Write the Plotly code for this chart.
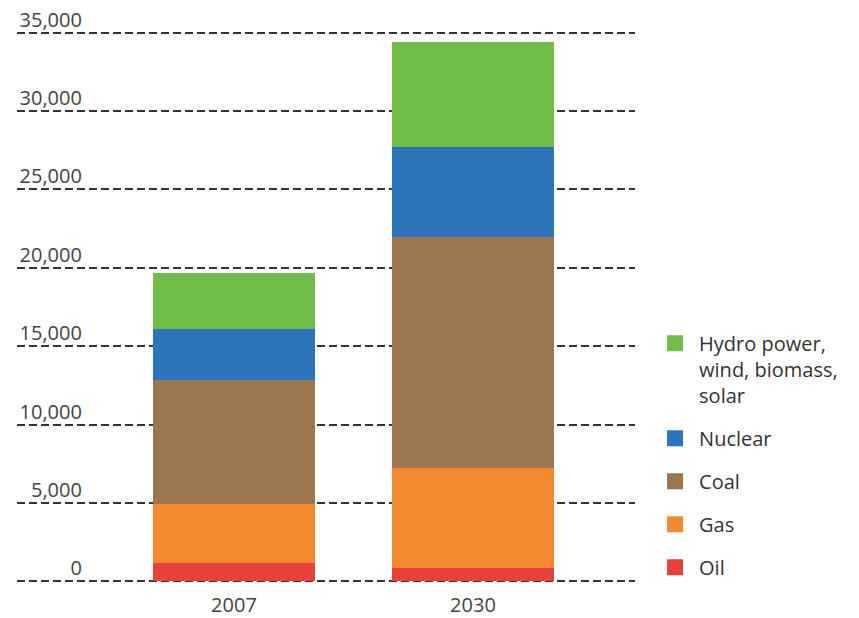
import plotly.graph_objects as go

years = ["2007", "2030"]
series_names = ["Oil", "Gas", "Coal", "Nuclear", "Hydro power,<br>wind, biomass,<br>solar"]
oil = [1170, 850]
gas = [3780, 6410]
coal = [7900, 14710]
nuclear = [3230, 5740]
renewables = [3600, 6690]
series_values = [oil, gas, coal, nuclear, renewables]
colors = ["#E6413B", "#F48A2F", "#9C7650", "#2C75BA", "#72BD4A"]
tick_vals = [0, 5000, 10000, 15000, 20000, 25000, 30000, 35000]
tick_text = ["0", "5,000", "10,000", "15,000", "20,000", "25,000", "30,000", "35,000"]

fig = go.Figure()
for name, vals, col in zip(series_names, series_values, colors):
    fig.add_trace(go.Bar(x=years, y=vals, name=name, marker=dict(color=col, line=dict(width=0)),
                         width=0.68, showlegend=False, legendgroup=name))
# legend proxies (top to bottom)
for name, col in reversed(list(zip(series_names, colors))):
    fig.add_trace(go.Scatter(x=[None], y=[None], mode="markers", name=name, legendgroup=name,
                             marker=dict(symbol="square", size=22, color=col)))

fig.update_layout(
    barmode="stack",
    width=859, height=618,
    margin=dict(l=17, r=224, t=28, b=32),
    plot_bgcolor="white", paper_bgcolor="white",
    font=dict(family="Open Sans", color="#444444", size=18),
    showlegend=True,
    legend=dict(x=1.026, y=0.47, xanchor="left", yanchor="top", traceorder="grouped",
                font=dict(size=20, color="#333333"), tracegroupgap=14, itemwidth=38,
                valign="top", bgcolor="rgba(0,0,0,0)"),
    xaxis=dict(range=[-0.908, 1.678], showgrid=False, showline=False, zeroline=False,
               ticks="", automargin=False, tickfont=dict(size=20, color="#444444"),
               ticklabelstandoff=5),
    yaxis=dict(range=[-300, 35300], tickvals=tick_vals, ticktext=tick_text,
               showgrid=True, gridcolor="#333333", gridwidth=1.5, griddash="8px,4px",
               zeroline=False, showline=False, ticks="", automargin=False,
               anchor="free", position=0.105, ticklabelshift=-13,
               tickfont=dict(size=20, color="#444444")),
)
fig.write_html("out.html")
